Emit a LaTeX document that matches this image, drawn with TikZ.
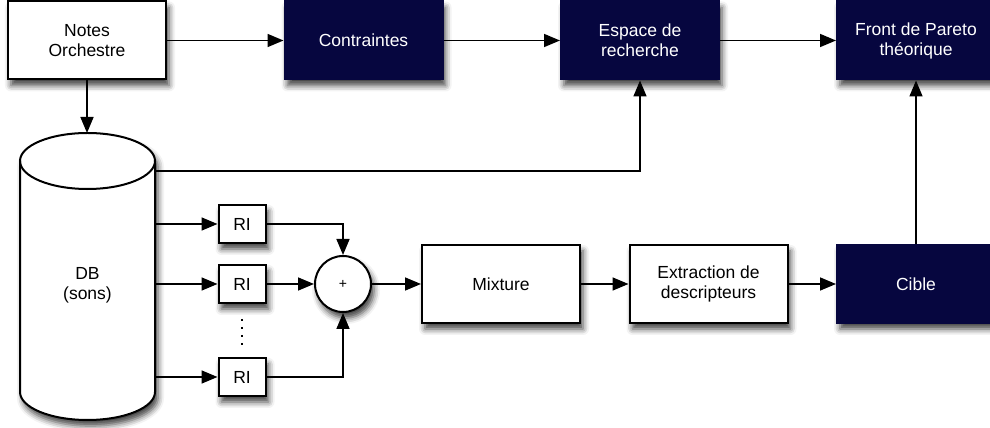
\documentclass[tikz,border=0pt]{standalone}
\usepackage{fontspec}
\setmainfont{Liberation Sans}
\usetikzlibrary{arrows.meta}
\usetikzlibrary{shadows.blur}

\definecolor{navy}{HTML}{06063F}

\tikzset{
  ombre/.style={blur shadow={shadow xshift=3pt, shadow yshift=-6pt, shadow blur radius=6pt, shadow opacity=75}},
  box/.style={draw=black, line width=2pt, fill=white, minimum width=158pt, minimum height=78pt, align=center, ombre},
  darkbox/.style={box, draw=navy, fill=navy, text=white},
  ri/.style={draw=black, line width=2pt, fill=white, minimum width=47pt, minimum height=38pt, ombre},
  sum/.style={circle, draw=black, line width=2pt, fill=white, minimum size=56pt, inner sep=0pt, font=\fontsize{14}{16}\selectfont, ombre},
  link/.style={draw=black, line width=1.6pt, -{Triangle[length=16pt, width=13pt, fill=black]}},
  dots/.style={line width=1.6pt, dash pattern=on 2pt off 6pt}
}

\begin{document}
\begin{tikzpicture}[x=1pt, y=1pt, font=\fontsize{17.5}{20}\selectfont]
				\path[use as bounding box, clip] (0,0) rectangle (990,428);

				% ligne du haut
				\node[box] (notes) at (87, 387.5) {Notes\\Orchestre};
				\node[darkbox] (contr) at (363.5, 387.5) {Contraintes};
				\node[darkbox] (espace) at (640, 387.5) {Espace de\\recherche};
				\node[darkbox] (front) at (916, 387.5) {Front de Pareto\\th\'eorique};

				% base de sons
				\path[draw=black, line width=2pt, fill=white, ombre] (20,267) -- (20,36)
					arc[start angle=180, end angle=360, x radius=67.5, y radius=28] -- (155,267)
					arc[start angle=0, end angle=180, x radius=67.5, y radius=28] -- cycle;
				\draw[line width=2pt] (20,267) arc[start angle=180, end angle=360, x radius=67.5, y radius=28];
				\node[minimum width=135pt, minimum height=200pt, align=center] (db) at (87.5,143) {DB\\(sons)};
				\coordinate (dbtop) at (87,295);
				\coordinate (dbtap) at (155,257);

				% ligne du bas
				\node[ri] (ri1) at (242,204) {RI};
				\node[ri] (ri2) at (242,144) {RI};
				\node[ri] (ri3) at (242,51) {RI};
				\node[sum] (sum) at (343,144) {+};
				\node[box] (mix) at (501,144) {Mixture};
				\node[box] (extr) at (708.5,144) {Extraction de\\descripteurs};
				\node[darkbox] (cible) at (916,144) {Cible};

				\draw[link] (notes) -- (contr);
				\draw[link] (contr) -- (espace);
				\draw[link] (espace) -- (front);
				\draw[link] (notes.south) -- (dbtop);
				\draw[link] (dbtap) -| (espace.south);

				\draw[link] (db.east |- ri1) -- (ri1);
				\draw[link] (db.east |- ri2) -- (ri2);
				\draw[link] (db.east |- ri3) -- (ri3);
				\draw[dots] ([yshift=-15pt]ri2.south) -- ([yshift=11pt]ri3.north);

				\draw[link] (ri1) -| (sum.north);
				\draw[link] (ri2) -- (sum);
				\draw[link] (ri3) -| (sum.south);
				\draw[link] (sum) -- (mix);
				\draw[link] (mix) -- (extr);
				\draw[link] (extr) -- (cible);
				\draw[link] (cible) -- (front);

			\end{tikzpicture}
\end{document}
